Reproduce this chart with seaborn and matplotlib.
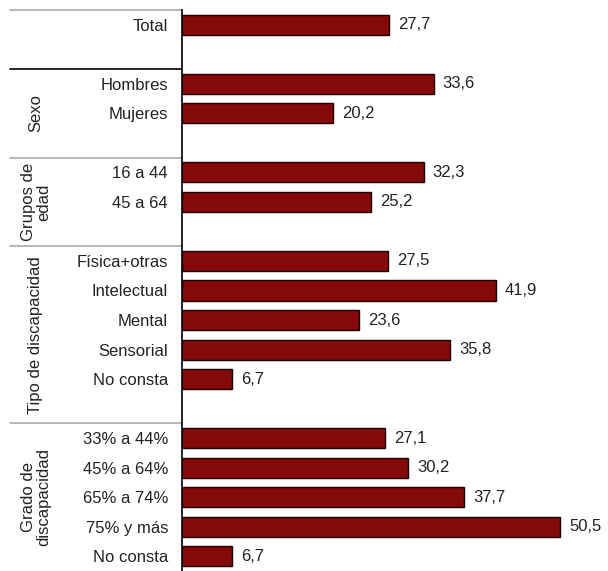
import pandas as pd
import seaborn as sns
import matplotlib.pyplot as plt
import matplotlib.transforms as mtransforms

# ---- Data ----
group_names = ["", "Sexo", "Grupos de\nedad", "Tipo de discapacidad", "Grado de\ndiscapacidad"]
group_cats = [
    ["Total"],
    ["Hombres", "Mujeres"],
    ["16 a 44", "45 a 64"],
    ["Física+otras", "Intelectual", "Mental", "Sensorial", "No consta"],
    ["33% a 44%", "45% a 64%", "65% a 74%", "75% y más", "No consta"],
]
group_values = [
    [27.7],
    [33.6, 20.2],
    [32.3, 25.2],
    [27.5, 41.9, 23.6, 35.8, 6.7],
    [27.1, 30.2, 37.7, 50.5, 6.7],
]

# ---- Build table with one empty slot between groups ----
rows = []
bounds = []
pos = 0
for g, cats, vals in zip(group_names, group_cats, group_values):
    bounds.append(pos - 0.5)
    for c, v in zip(cats, vals):
        rows.append({"grupo": g, "cat": c, "valor": v, "pos": pos})
        pos += 1
    pos += 1
bounds.append(pos - 1.5)
df = pd.DataFrame(rows)

# ---- Plot ----
sns.set_theme(style="white")
plt.rcParams["font.family"] = ["Liberation Sans", "DejaVu Sans"]

fig = plt.figure(figsize=(6.08, 5.71), dpi=100)
ax = fig.add_axes([182 / 608, 0, 1 - 182 / 608, 561 / 571])

sns.barplot(data=df, x="valor", y="pos", orient="h", native_scale=True,
            color="#850b0b", edgecolor="#1a0000", linewidth=1.0,
            width=0.68, saturation=1, ax=ax)

ax.set_xlim(0, 56.9)
ax.set_ylim(bounds[-1], bounds[0])
ax.set_yticks(df["pos"], df["cat"])
ax.set_xticks([])
ax.tick_params(axis="y", length=0, pad=10, labelsize=12, labelcolor="#222222")
ax.set_xlabel("")
ax.set_ylabel("")
for side in ["top", "right", "bottom"]:
    ax.spines[side].set_visible(False)
ax.spines["left"].set_color("black")
ax.spines["left"].set_linewidth(1.2)

# value labels
for p, v in zip(df["pos"], df["valor"]):
    ax.text(v + 1.2, p, f"{v:.1f}".replace(".", ","), va="center", ha="left",
            fontsize=12, color="#222222")

# group separators and group titles
trans = mtransforms.blended_transform_factory(fig.transFigure, ax.transData)
for i, b in enumerate(bounds[:-1]):
    col = "black" if i == 1 else "#aaaaaa"
    ax.plot([10 / 608, 182 / 608], [b, b], color=col, lw=1.2,
            transform=trans, clip_on=False)
for g, lo, hi in zip(group_names, bounds[:-1], bounds[1:]):
    if g:
        ax.text(36 / 608, (lo + hi) / 2, g, rotation=90, ha="center", va="center",
                fontsize=12, color="#222222", transform=trans, linespacing=1.0,
                multialignment="center")

plt.savefig("out.png", dpi=100)
plt.close()
